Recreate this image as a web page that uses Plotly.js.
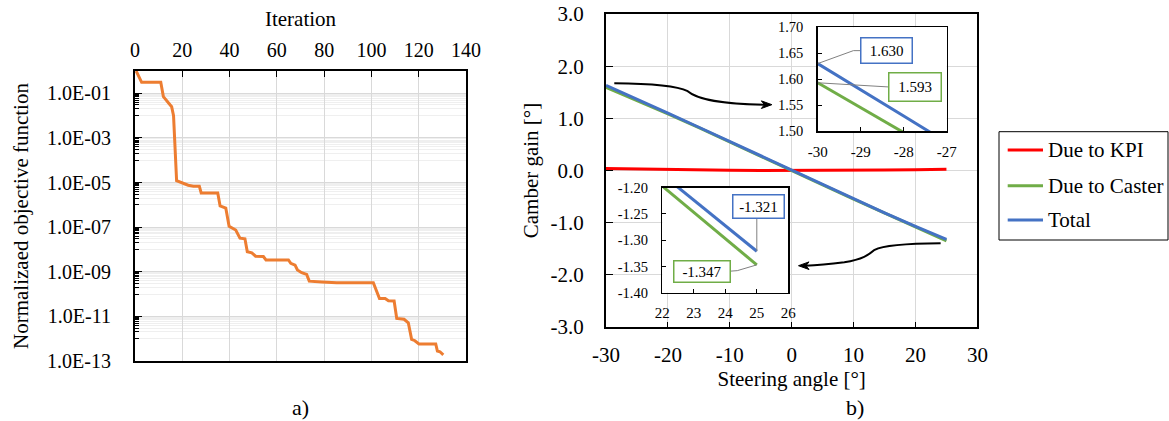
<!DOCTYPE html>
<html>
<head>
<meta charset="utf-8">
<script src="https://cdn.plot.ly/plotly-3.0.1.min.js"></script>
<style>html,body{margin:0;padding:0;background:#fff;}#chart{width:1169px;height:421px;}</style>
</head>
<body>
<div id="chart"></div>
<script>
// ---------- Data: (a) optimisation history ----------
const iteration = [0.5, 2.8, 10.9, 12, 15.5, 16.3, 17.6, 20.4, 22.5, 24.7, 27.2, 28, 35, 36, 38.4, 39.8, 42.6, 44.4, 46.5, 47.5, 49.4, 51, 54.3, 55.4, 64.9, 65.9, 67.7, 68.7, 70.5, 72.6, 73.7, 79, 85.3, 100.8, 103.4, 105.8, 107.2, 109.6, 110.7, 113.8, 115.6, 117, 118.4, 120.1, 127.2, 127.9, 129, 130.4];
const objective = [1.0, 3.1e-1, 3.1e-1, 7.1e-2, 2.5e-2, 1.0e-2, 1.2e-5, 9.1e-6, 7.6e-6, 6.9e-6, 6.9e-6, 3.4e-6, 3.4e-6, 8.9e-7, 7.2e-7, 1.1e-7, 7.4e-8, 3.2e-8, 3.0e-8, 7.9e-9, 7.1e-9, 5.0e-9, 4.8e-9, 3.4e-9, 3.4e-9, 2.4e-9, 2.0e-9, 1.2e-9, 9.1e-10, 7.6e-10, 3.8e-10, 3.5e-10, 3.2e-10, 3.2e-10, 6.3e-11, 6.3e-11, 5.0e-11, 4.9e-11, 8.1e-12, 7.4e-12, 5.2e-12, 9.3e-13, 8.1e-13, 5.8e-13, 5.8e-13, 2.8e-13, 2.6e-13, 1.9e-13];
const logTickVals = [1e-1, 1e-3, 1e-5, 1e-7, 1e-9, 1e-11, 1e-13];
const logTickText = ['1.0E-01', '1.0E-03', '1.0E-05', '1.0E-07', '1.0E-09', '1.0E-11', '1.0E-13'];
const iterTicks = [0, 20, 40, 60, 80, 100, 120, 140];

// ---------- Data: (b) camber gain ----------
const steer = [-30, -25, -20, -15, -10, -5, 0, 5, 10, 15, 20, 25];
const dueKPI = [0.037, 0.026, 0.016, 0.009, 0.004, 0.001, 0, 0.001, 0.004, 0.009, 0.016, 0.026];
const dueCaster = [1.593, 1.345, 1.085, 0.820, 0.550, 0.275, 0, -0.275, -0.550, -0.820, -1.085, -1.347];
const total = [1.630, 1.371, 1.101, 0.829, 0.554, 0.276, 0, -0.274, -0.546, -0.811, -1.069, -1.321];
const steerTicks = [-30, -20, -10, 0, 10, 20, 30];
const steerTickText = ['-30', '-20', '-10', '0', '10', '20', '30'];
const camberTicks = [-3, -2, -1, 0, 1, 2, 3];
const camberTickText = ['-3.0', '-2.0', '-1.0', '0.0', '1.0', '2.0', '3.0'];

// zoom-in insets
const zoomLX = [-30, -29, -28, -27];
const zoomLTotal = [1.630, 1.580, 1.529, 1.478];
const zoomLCaster = [1.593, 1.545, 1.497, 1.449];
const zoomLXText = ['-30', '-29', '-28', '-27'];
const zoomLYTicks = [1.50, 1.55, 1.60, 1.65, 1.70];
const zoomLYText = ['1.50', '1.55', '1.60', '1.65', '1.70'];
const zoomRX = [22, 23, 24, 25];
const zoomRTotal = [-1.175, -1.224, -1.272, -1.321];
const zoomRCaster = [-1.197, -1.247, -1.297, -1.347];
const zoomRXTicks = [22, 23, 24, 25, 26];
const zoomRYTicks = [-1.40, -1.35, -1.30, -1.25, -1.20];
const zoomRYText = ['-1.40', '-1.35', '-1.30', '-1.25', '-1.20'];
const seriesNames = ['Due to KPI', 'Due to Caster', 'Total'];
const seriesColors = ['#FF0000', '#70AD47', '#4472C4'];

// minor log grid positions (m x 10^even)
const minorVals = [];
[-2, -4, -6, -8, -10, -12].forEach(e => { for (let m = 1; m <= 9; m++) minorVals.push(m * Math.pow(10, e)); });

const W = 1169, H = 421;
const PX = x => x / W;
const PY = y => 1 - y / H;
const FONT = 'Liberation Serif';
const GRID = '#d9d9d9';

const traces = [
  {x: iteration, y: objective, xaxis: 'x', yaxis: 'y', mode: 'lines', line: {color: '#ED7D31', width: 3}, showlegend: false},
  {x: steer, y: dueKPI, xaxis: 'x2', yaxis: 'y2', mode: 'lines', name: seriesNames[0], line: {color: seriesColors[0], width: 3}, showlegend: false},
  {x: steer, y: dueCaster, xaxis: 'x2', yaxis: 'y2', mode: 'lines', name: seriesNames[1], line: {color: seriesColors[1], width: 3}, showlegend: false},
  {x: steer, y: total, xaxis: 'x2', yaxis: 'y2', mode: 'lines', name: seriesNames[2], line: {color: seriesColors[2], width: 3}, showlegend: false},
  {x: zoomLX, y: zoomLCaster, xaxis: 'x3', yaxis: 'y3', mode: 'lines', line: {color: seriesColors[1], width: 3}, showlegend: false},
  {x: zoomLX, y: zoomLTotal, xaxis: 'x3', yaxis: 'y3', mode: 'lines', line: {color: seriesColors[2], width: 3}, showlegend: false},
  {x: zoomRX, y: zoomRCaster, xaxis: 'x4', yaxis: 'y4', mode: 'lines', line: {color: seriesColors[1], width: 3}, showlegend: false},
  {x: zoomRX, y: zoomRTotal, xaxis: 'x4', yaxis: 'y4', mode: 'lines', line: {color: seriesColors[2], width: 3}, showlegend: false}
];

const axBase = {showline: true, linecolor: '#000', linewidth: 2, mirror: true, ticks: 'inside', tickcolor: '#000', zeroline: false, tickfont: {family: FONT, size: 20, color: '#000'}};

function label(xref, yref, x, y, text, color, w, h) {
  return {xref: xref, yref: yref, x: x, y: y, xanchor: 'center', yanchor: 'middle', text: text, showarrow: false,
    font: {family: FONT, size: 15, color: '#000'}, bgcolor: '#fff', bordercolor: color, borderwidth: 1.5, borderpad: 1, width: w, height: h};
}

const layout = {
  width: W, height: H,
  margin: {l: 0, r: 0, t: 0, b: 0},
  paper_bgcolor: '#fff', plot_bgcolor: '#fff',
  font: {family: FONT, color: '#000'},
  showlegend: false,
  xaxis: Object.assign({}, axBase, {
    domain: [PX(135), PX(466)], anchor: 'y', side: 'top', range: [0, 140],
    tickmode: 'array', tickvals: iterTicks, ticklen: 6, ticklabelstandoff: 4,
    showgrid: true, gridcolor: GRID, gridwidth: 1,
    title: {text: 'Iteration', font: {family: FONT, size: 21}, standoff: 7}
  }),
  yaxis: Object.assign({}, axBase, {
    domain: [PY(361), PY(71)], anchor: 'x', type: 'log', range: [-13, 0],
    tickmode: 'array', tickvals: logTickVals, ticktext: logTickText, ticklen: 7, ticklabelstandoff: 18,
    showgrid: true, gridcolor: GRID, gridwidth: 1,
    minor: {tickmode: 'array', tickvals: minorVals, ticks: 'inside', ticklen: 4, tickcolor: '#000', showgrid: true, gridcolor: '#efefef', gridwidth: 1},
    title: {text: 'Normalizaed objective function', font: {family: FONT, size: 21}, standoff: 13}
  }),
  xaxis2: Object.assign({}, axBase, {
    domain: [PX(606), PX(977.4)], anchor: 'y2', range: [-30, 30],
    tickmode: 'array', tickvals: steerTicks, ticktext: steerTickText, ticklen: 5, ticklabelstandoff: 8,
    tickfont: {family: FONT, size: 21, color: '#000'},
    showgrid: true, gridcolor: GRID, gridwidth: 1,
    title: {text: 'Steering angle [°]', font: {family: FONT, size: 21}, standoff: 0}
  }),
  yaxis2: Object.assign({}, axBase, {
    domain: [PY(327), PY(14)], anchor: 'x2', range: [-3, 3],
    tickmode: 'array', tickvals: camberTicks, ticktext: camberTickText, ticklen: 7, ticklabelstandoff: 16,
    tickfont: {family: FONT, size: 21, color: '#000'},
    showgrid: true, gridcolor: GRID, gridwidth: 1,
    title: {text: 'Camber gain [°]', font: {family: FONT, size: 21}, standoff: 6}
  }),
  xaxis3: Object.assign({}, axBase, {
    domain: [PX(817.7), PX(946.7)], anchor: 'y3', range: [-30, -27],
    tickmode: 'array', tickvals: zoomLX, ticktext: zoomLXText, ticklen: 4, linewidth: 1.5, ticklabelstandoff: 6,
    tickfont: {family: FONT, size: 15, color: '#000'}, showgrid: false
  }),
  yaxis3: Object.assign({}, axBase, {
    domain: [PY(131), PY(27.3)], anchor: 'x3', range: [1.5, 1.7],
    tickmode: 'array', tickvals: zoomLYTicks, ticktext: zoomLYText, ticklen: 4, linewidth: 1.5, ticklabelstandoff: 10,
    tickfont: {family: FONT, size: 14.5, color: '#000'}, showgrid: false
  }),
  xaxis4: Object.assign({}, axBase, {
    domain: [PX(662.3), PX(788.3)], anchor: 'y4', range: [22, 26],
    tickmode: 'array', tickvals: zoomRXTicks, ticklen: 4, linewidth: 1.5, ticklabelstandoff: 6,
    tickfont: {family: FONT, size: 15, color: '#000'}, showgrid: false
  }),
  yaxis4: Object.assign({}, axBase, {
    domain: [PY(292.7), PY(187.7)], anchor: 'x4', range: [-1.40, -1.20],
    tickmode: 'array', tickvals: zoomRYTicks, ticktext: zoomRYText, ticklen: 4, linewidth: 1.5, ticklabelstandoff: 10,
    tickfont: {family: FONT, size: 14.5, color: '#000'}, showgrid: false
  }),
  shapes: [
    // curved pointer arrows (main axes coordinates)
    {type: 'path', xref: 'x2', yref: 'y2', layer: 'above', line: {color: '#000', width: 2},
     path: 'M -28.66,1.671 C -22,1.665 -18.5,1.62 -16.8,1.52 C -15.6,1.40 -13,1.28 -4.3,1.262'},
    {type: 'path', xref: 'x2', yref: 'y2', layer: 'above', line: {color: '#000', width: 1}, fillcolor: '#000',
     path: 'M -3.2,1.262 L -4.9,1.335 L -4.4,1.262 L -4.9,1.189 Z'},
    {type: 'path', xref: 'x2', yref: 'y2', layer: 'above', line: {color: '#000', width: 2},
     path: 'M 24.06,-1.395 C 19,-1.40 15,-1.42 13.4,-1.52 C 12.4,-1.62 11.5,-1.70 8.5,-1.76 C 6,-1.80 4,-1.82 2.2,-1.825'},
    {type: 'path', xref: 'x2', yref: 'y2', layer: 'above', line: {color: '#000', width: 1}, fillcolor: '#000',
     path: 'M 1.1,-1.825 L 2.8,-1.752 L 2.3,-1.825 L 2.8,-1.898 Z'},
    // leader lines of the data labels
    {type: 'path', xref: 'x3', yref: 'y3', layer: 'above', line: {color: '#808080', width: 1}, path: 'M -30,1.630 L -29.17,1.655 L -29.0,1.655'},
    {type: 'path', xref: 'x3', yref: 'y3', layer: 'above', line: {color: '#808080', width: 1}, path: 'M -30,1.593 L -28.36,1.585'},
    {type: 'path', xref: 'x4', yref: 'y4', layer: 'above', line: {color: '#808080', width: 1}, path: 'M 25,-1.321 L 25,-1.255'},
    {type: 'path', xref: 'x4', yref: 'y4', layer: 'above', line: {color: '#808080', width: 1}, path: 'M 25,-1.347 L 24.38,-1.358 L 24.15,-1.359'},
    // legend box
    {type: 'rect', xref: 'paper', yref: 'paper', x0: PX(999), x1: PX(1168), y0: PY(240), y1: PY(131.7), line: {color: '#000', width: 1}, fillcolor: 'rgba(0,0,0,0)'}
  ],
  annotations: [
    label('x3', 'y3', -28.405, 1.6556, '1.630', seriesColors[2], 48, 22),
    label('x3', 'y3', -27.74, 1.5858, '1.593', seriesColors[1], 49, 25),
    label('x4', 'y4', 25.04, -1.2354, '-1.321', seriesColors[2], 48, 20),
    label('x4', 'y4', 23.26, -1.359, '-1.347', seriesColors[1], 53, 18),
    {xref: 'paper', yref: 'paper', x: PX(300), y: PY(407), xanchor: 'center', yanchor: 'middle', text: 'a)', showarrow: false, font: {family: FONT, size: 22, color: '#000'}},
    {xref: 'paper', yref: 'paper', x: PX(855), y: PY(407), xanchor: 'center', yanchor: 'middle', text: 'b)', showarrow: false, font: {family: FONT, size: 22, color: '#000'}}
  ]
};

// manual legend entries
const legendY = [150, 185.7, 220];
seriesNames.forEach((nm, i) => {
  layout.shapes.push({type: 'line', xref: 'paper', yref: 'paper', x0: PX(1007.7), x1: PX(1043), y0: PY(legendY[i]), y1: PY(legendY[i]), line: {color: seriesColors[i], width: 3}});
  layout.annotations.push({xref: 'paper', yref: 'paper', x: PX(1046), y: PY(legendY[i]), xanchor: 'left', yanchor: 'middle', text: nm, showarrow: false, font: {family: FONT, size: 21, color: '#000'}});
});

Plotly.newPlot('chart', traces, layout, {staticPlot: true, displayModeBar: false});
</script>
</body>
</html>
